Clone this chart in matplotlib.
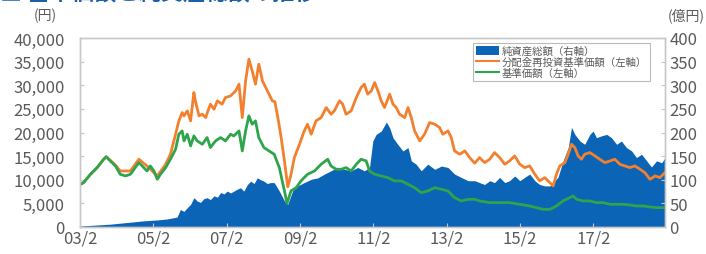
import matplotlib
matplotlib.use("Agg")
import matplotlib.pyplot as plt
from matplotlib.patches import Patch
from matplotlib.lines import Line2D

plt.rcParams['font.family'] = ['Noto Sans CJK JP', 'DejaVu Sans']

# ---------------- data (x = decimal year) ----------------
nav_t = [2003.08, 2003.18, 2003.37, 2003.55, 2003.73, 2003.80, 2003.91, 2004.05, 2004.18, 2004.32,
         2004.46, 2004.59, 2004.69, 2004.78, 2004.91, 2005.00, 2005.10, 2005.19, 2005.28, 2005.42,
         2005.55, 2005.69, 2005.78, 2005.87, 2005.92, 2006.01, 2006.10, 2006.19, 2006.28, 2006.42,
         2006.55, 2006.64, 2006.78, 2006.92, 2007.05, 2007.19, 2007.28, 2007.42, 2007.51, 2007.60,
         2007.69, 2007.78, 2007.87, 2007.96, 2008.10, 2008.24, 2008.38, 2008.52, 2008.66, 2008.73,
         2008.84, 2008.98, 2009.11, 2009.29, 2009.48, 2009.66, 2009.84, 2009.93, 2010.07, 2010.21,
         2010.34, 2010.48, 2010.62, 2010.75, 2010.89, 2010.98, 2011.12, 2011.30, 2011.48, 2011.66,
         2011.85, 2012.03, 2012.21, 2012.39, 2012.57, 2012.76, 2012.94, 2013.12, 2013.30, 2013.48,
         2013.67, 2013.85, 2013.98, 2014.26, 2014.53, 2014.80, 2015.08, 2015.35, 2015.53, 2015.71,
         2015.90, 2016.08, 2016.26, 2016.44, 2016.53, 2016.63, 2016.81, 2016.99, 2017.17, 2017.35,
         2017.54, 2017.72, 2017.90, 2018.08, 2018.26, 2018.45, 2018.63, 2018.81, 2019.04]
nav = [9000, 9390, 11160, 12570, 14340, 14830, 13980, 12920, 11160, 10810,
       11160, 12570, 13630, 12920, 11860, 12920, 11860, 10100, 11160, 12570,
       14340, 16450, 19630, 20340, 18220, 19630, 17160, 19280, 18220, 17510,
       18930, 16810, 18220, 18930, 18220, 19630, 19280, 20340, 16100, 20340,
       23520, 21750, 22460, 18930, 16810, 16100, 15400, 12570, 7630, 5000,
       7630, 8330, 9750, 11160, 11860, 13280, 14340, 12920, 12220, 12220,
       12570, 11860, 13280, 14340, 13980, 11860, 11160, 10810, 10450, 9750,
       9750, 9040, 8330, 7270, 7630, 8330, 7980, 7630, 6210, 5510,
       5860, 5860, 5510, 5160, 5160, 5160, 4800, 4450, 4100, 3740,
       3740, 4450, 5510, 6210, 6570, 5860, 5510, 5510, 5160, 5160,
       4800, 4800, 4800, 4660, 4450, 4450, 4240, 4100, 4100]

reinv_t = [2003.08, 2003.18, 2003.37, 2003.55, 2003.73, 2003.80, 2003.91, 2004.05, 2004.18, 2004.46,
           2004.69, 2004.91, 2005.19, 2005.42, 2005.55, 2005.69, 2005.78, 2005.87, 2005.92, 2006.01,
           2006.10, 2006.19, 2006.23, 2006.33, 2006.42, 2006.51, 2006.64, 2006.74, 2006.83, 2006.96,
           2007.05, 2007.19, 2007.33, 2007.42, 2007.51, 2007.60, 2007.69, 2007.78, 2007.87, 2007.96,
           2008.06, 2008.15, 2008.24, 2008.33, 2008.40, 2008.48, 2008.57, 2008.66, 2008.75, 2008.84,
           2008.93, 2009.07, 2009.20, 2009.29, 2009.39, 2009.52, 2009.66, 2009.80, 2009.93, 2010.02,
           2010.16, 2010.25, 2010.34, 2010.48, 2010.62, 2010.75, 2010.84, 2010.93, 2011.03, 2011.12,
           2011.21, 2011.30, 2011.39, 2011.53, 2011.62, 2011.71, 2011.80, 2011.94, 2012.03, 2012.12,
           2012.21, 2012.35, 2012.48, 2012.62, 2012.76, 2012.89, 2012.98, 2013.12, 2013.21, 2013.30,
           2013.44, 2013.58, 2013.71, 2013.85, 2013.98, 2014.12, 2014.26, 2014.39, 2014.53, 2014.67,
           2014.80, 2014.94, 2015.08, 2015.21, 2015.35, 2015.49, 2015.62, 2015.76, 2015.90, 2015.99,
           2016.08, 2016.17, 2016.31, 2016.40, 2016.49, 2016.58, 2016.67, 2016.76, 2016.85, 2016.99,
           2017.13, 2017.26, 2017.40, 2017.54, 2017.67, 2017.81, 2017.95, 2018.08, 2018.22, 2018.36,
           2018.49, 2018.63, 2018.77, 2018.90, 2019.04]
reinv = [9000, 9390, 11160, 12570, 14340, 14900, 14100, 13100, 11860, 11860,
         14340, 12920, 10810, 13280, 15400, 19630, 22460, 24220, 23520, 24580,
         22460, 28460, 26690, 23520, 23870, 23160, 25990, 24930, 26690, 25990,
         27400, 27750, 28810, 30230, 23160, 30930, 35520, 33050, 30230, 34460,
         30930, 29520, 28110, 26690, 26500, 23160, 18930, 13980, 8500, 11160,
         14690, 17510, 20340, 21750, 19630, 22460, 23160, 25280, 23870, 24580,
         26690, 25990, 23870, 24580, 27400, 29520, 30230, 28110, 28810, 30580,
         28810, 26690, 25280, 28110, 25990, 25280, 23870, 23160, 25280, 23160,
         20340, 18220, 19630, 22100, 21750, 21050, 19630, 20340, 18930, 16100,
         15400, 16100, 14700, 13500, 14690, 13630, 14340, 15750, 14690, 13280,
         13980, 15040, 13280, 12570, 12920, 11160, 9750, 10450, 9390, 8690,
         11160, 12920, 13630, 15400, 17510, 16810, 15040, 14340, 15400, 15750,
         15040, 14340, 13630, 13980, 14340, 13280, 12920, 12570, 12920, 12220,
         11510, 10100, 10810, 10450, 11510]

aum_t = [2003.08, 2003.50, 2003.91, 2004.30, 2004.82, 2005.20, 2005.46, 2005.73, 2005.82, 2005.92,
         2006.01, 2006.10, 2006.19, 2006.28, 2006.37, 2006.46, 2006.55, 2006.64, 2006.74, 2006.83,
         2006.92, 2007.01, 2007.10, 2007.19, 2007.28, 2007.37, 2007.46, 2007.55, 2007.65, 2007.74,
         2007.83, 2007.92, 2008.01, 2008.10, 2008.19, 2008.28, 2008.38, 2008.52, 2008.66, 2008.75,
         2008.88, 2009.02, 2009.20, 2009.39, 2009.57, 2009.75, 2009.93, 2010.11, 2010.30, 2010.48,
         2010.66, 2010.84, 2010.98, 2011.07, 2011.16, 2011.30, 2011.44, 2011.53, 2011.62, 2011.75,
         2011.89, 2012.03, 2012.12, 2012.25, 2012.39, 2012.57, 2012.76, 2012.94, 2013.12, 2013.30,
         2013.48, 2013.67, 2013.85, 2013.98, 2014.12, 2014.26, 2014.39, 2014.53, 2014.67, 2014.80,
         2014.94, 2015.08, 2015.21, 2015.35, 2015.49, 2015.62, 2015.76, 2015.90, 2016.03, 2016.12,
         2016.26, 2016.40, 2016.49, 2016.58, 2016.72, 2016.85, 2016.99, 2017.08, 2017.17, 2017.31,
         2017.45, 2017.58, 2017.72, 2017.85, 2017.99, 2018.13, 2018.26, 2018.40, 2018.54, 2018.67,
         2018.81, 2018.95, 2019.04]
aum = [2, 4, 6, 9, 13, 15, 17, 21, 37, 33,
       41, 48, 62, 55, 52, 60, 62, 58, 66, 63,
       73, 70, 76, 72, 76, 80, 83, 76, 90, 97,
       92, 104, 100, 97, 92, 94, 94, 76, 55, 48,
       76, 87, 94, 101, 104, 112, 119, 126, 122, 119,
       126, 119, 126, 182, 196, 203, 222, 210, 189, 175,
       161, 168, 140, 133, 119, 133, 122, 129, 126, 112,
       105, 98, 98, 94, 90, 98, 94, 105, 94, 98,
       108, 98, 105, 112, 98, 90, 87, 87, 98, 105,
       140, 168, 211, 196, 182, 175, 196, 203, 189, 193,
       196, 189, 175, 182, 168, 161, 147, 154, 140, 127,
       140, 136, 147]

tick_years = [2003, 2005, 2007, 2009, 2011, 2013, 2015, 2017]
tick_labels = ["03/2", "05/2", "07/2", "09/2", "11/2", "13/2", "15/2", "17/2"]
left_ticks = [0, 5000, 10000, 15000, 20000, 25000, 30000, 35000, 40000]
right_ticks = [0, 50, 100, 150, 200, 250, 300, 350, 400]

names = ["純資産総額（右軸）", "分配金再投資基準価額（左軸）", "基準価額（左軸）"]
c_blue, c_orange, c_green = "#0b64b6", "#f2802f", "#2ea54c"
txt = "#5a5a5a"
spine_c = "#c8c8c8"

# ---------------- figure ----------------
fig = plt.figure(figsize=(7.06, 2.55), dpi=100)
ax = fig.add_axes([80/706, 1-228/255, (665-80)/706, (228-39)/255])
ax2 = ax.twinx()

ax2.fill_between(aum_t, aum, 0, color=c_blue, lw=0)
ax.plot(reinv_t, reinv, color=c_orange, lw=2.0)
ax.plot(nav_t, nav, color=c_green, lw=2.0)

ax.set_zorder(ax2.get_zorder() + 1)
ax.patch.set_visible(False)

x0 = 2003 + 1/12
ax.set_xlim(x0, 2019.04)
ax.set_ylim(0, 40000)
ax2.set_ylim(0, 400)

ax.set_xticks([y + 1/12 for y in tick_years])
ax.set_xticklabels(tick_labels)
ax.set_yticks(left_ticks)
ax.set_yticklabels([f"{v:,}" for v in left_ticks])
ax2.set_yticks(right_ticks)
ax2.set_yticklabels([str(v) for v in right_ticks])

for a in (ax, ax2):
    for s in a.spines.values():
        s.set_color(spine_c)
        s.set_linewidth(1.0)
    a.tick_params(axis='both', direction='in', length=3, color=spine_c,
                  labelcolor=txt, labelsize=12)
ax.tick_params(axis='y', pad=11)
ax2.tick_params(axis='y', pad=3)
ax.tick_params(axis='x', pad=2)

fig.text(45/706, 1-16/255, "(円)", ha='center', va='center', color=txt, fontsize=10)
fig.text(686/706, 1-16/255, "(億円)", ha='center', va='center', color=txt, fontsize=10)
fig.text(0.0, 1.028, "■ 基準価額と純資産総額の推移", ha='left', va='center',
         color="#1a5fa8", fontsize=16, fontweight='bold')

handles = [Patch(facecolor=c_blue, edgecolor='none'),
           Line2D([], [], color=c_orange, lw=1.5),
           Line2D([], [], color=c_green, lw=1.5)]
leg = ax.legend(handles, names, loc='upper right', bbox_to_anchor=(0.978, 0.985),
                fontsize=7.5, frameon=True, fancybox=False, borderpad=0.3,
                labelspacing=0.05, handlelength=2.2, handleheight=1.0,
                handletextpad=0.3, borderaxespad=0.2)
leg.get_frame().set_edgecolor("#aaaaaa")
leg.get_frame().set_linewidth(0.8)
for t in leg.get_texts():
    t.set_color(txt)

fig.savefig("out.png", dpi=100)
